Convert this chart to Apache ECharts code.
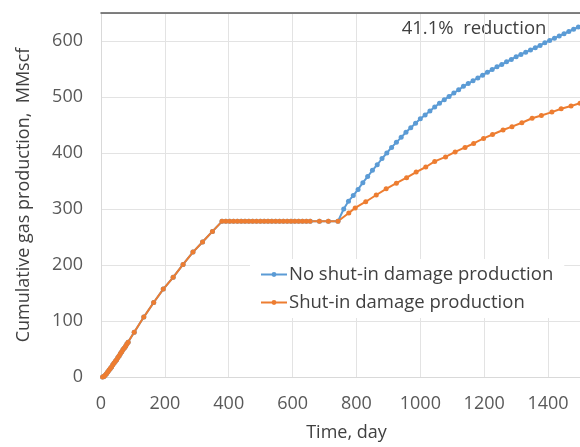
<!DOCTYPE html>
<html>
<head>
<meta charset="utf-8">
<script src="https://cdn.jsdelivr.net/npm/echarts@6/dist/echarts.min.js"></script>
<style>
  html, body { margin: 0; padding: 0; background: #fff; }
  #chart { width: 580px; height: 447px; }
</style>
</head>
<body>
<div id="chart"></div>
<script>
// shared history (both cases identical until the shut-in ends)
const historyDays = [5, 9, 13, 17, 21, 25, 29, 33, 37, 41, 45, 49, 53, 57, 61, 65, 69, 73, 77, 81, 85,
  104, 134, 165, 195, 226, 257, 288, 318, 349, 379,
  391, 403, 415, 427, 439, 451, 463, 475, 487, 499, 511, 523, 535, 547, 559, 571, 583, 595, 607, 619, 631, 643, 655,
  684, 712, 742]
const historyValues = [0, 1, 3, 6, 9, 12, 15, 18, 22, 25, 28, 31, 35, 38, 42, 45, 49, 52, 55, 59, 62,
  80, 107, 133, 157, 178, 201, 223, 241, 260, 278,
  278, 278, 278, 278, 278, 278, 278, 278, 278, 278, 278, 278, 278, 278, 278, 278, 278, 278, 278, 278, 278, 278, 278,
  278, 278, 278]

// after restart: no shut-in damage
const noDamageDays = [760, 775, 790, 805, 820, 835, 850, 865, 880, 895, 910, 925, 940, 955, 970, 985, 1000,
  1015, 1030, 1045, 1060, 1075, 1090, 1105, 1120, 1135, 1150, 1165, 1180, 1195, 1210, 1225, 1240, 1255,
  1270, 1285, 1300, 1315, 1330, 1345, 1360, 1375, 1390, 1405, 1420, 1435, 1450, 1465, 1480, 1495]
const noDamageValues = [300, 314, 324, 335, 347, 358, 369, 379, 390, 400, 410, 419, 428, 437, 445, 453, 461,
  468, 475, 482, 489, 495, 501, 507, 513, 519, 524, 529, 534, 539, 544, 549, 554, 558,
  563, 567, 572, 576, 580, 584, 588, 592, 597, 601, 605, 609, 613, 617, 621, 625]

// after restart: with shut-in damage
const damageDays = [776, 796, 829, 862, 893, 925, 957, 987, 1017, 1045, 1079, 1109, 1140, 1167, 1198,
  1226, 1259, 1287, 1318, 1350, 1379, 1412, 1441, 1472, 1500]
const damageValues = [293, 302, 313, 325, 336, 346, 356, 366, 375, 385, 393, 402, 410, 417, 426,
  433, 441, 447, 454, 462, 467, 473, 479, 484, 489]

const seriesNames = ['No shut-in damage production', 'Shut-in damage production']
const annotationText = '41.1%  reduction'

const font = 'Open Sans'

const pairs = (xs, ys) => xs.map((x, i) => [x, ys[i]])

const chart = echarts.init(document.getElementById('chart'), null, { renderer: 'canvas' })

const option = {
  animation: false,
  backgroundColor: '#fff',
  textStyle: { fontFamily: font },
  grid: { left: 101, top: 13, width: 491, height: 369 },
  legend: {
    data: seriesNames,
    orient: 'vertical',
    left: 250,
    top: 259,
    backgroundColor: '#fff',
    padding: [6, 11, 6, 10],
    itemGap: 9,
    itemWidth: 26,
    itemHeight: 6,
    textStyle: { fontFamily: font, fontSize: 18.5, color: '#404040', padding: [0, 0, 0, -3] }
  },
  xAxis: [{
    type: 'value',
    min: 0,
    max: 1500,
    interval: 200,
    name: 'Time, day',
    nameLocation: 'middle',
    nameGap: 47,
    nameTextStyle: { fontFamily: font, fontSize: 18, color: '#404040', padding: [0, 0, 0, 12] },
    axisLine: { lineStyle: { color: '#d9d9d9' } },
    axisTick: { show: false },
    axisLabel: {
      fontFamily: font, fontSize: 18, color: '#595959', margin: 18, showMaxLabel: false,
      formatter: v => String(v)
    },
    splitLine: { lineStyle: { color: '#e3e3e3' } }
  }, {
    type: 'value',
    position: 'top',
    min: 0,
    max: 1500,
    axisLine: { show: true, lineStyle: { color: '#595959', width: 1.5 } },
    axisTick: { show: false },
    axisLabel: { show: false },
    splitLine: { show: false }
  }],
  yAxis: {
    type: 'value',
    min: 0,
    max: 650,
    interval: 100,
    name: 'Cumulative gas production,  MMscf',
    nameLocation: 'middle',
    nameGap: 68,
    nameTextStyle: { fontFamily: font, fontSize: 18, color: '#404040' },
    axisLine: { show: true, lineStyle: { color: '#d9d9d9' } },
    axisTick: { show: false },
    axisLabel: { fontFamily: font, fontSize: 18, color: '#595959', margin: 18, showMaxLabel: false },
    splitLine: { lineStyle: { color: '#e3e3e3' } }
  },
  graphic: [{
    type: 'group',
    left: 392,
    top: 14,
    z: 10,
    children: [
      { type: 'rect', shape: { x: 0, y: 0, width: 166, height: 30 }, style: { fill: '#fff' } },
      {
        type: 'text',
        x: 82,
        y: 15,
        style: {
          text: annotationText,
          fontFamily: font,
          fontSize: 18.5,
          fill: '#404040',
          align: 'center',
          verticalAlign: 'middle'
        }
      }
    ]
  }],
  series: [{
    name: seriesNames[0],
    type: 'line',
    data: pairs(historyDays, historyValues).concat(pairs(noDamageDays, noDamageValues)),
    symbol: 'circle',
    symbolSize: 5,
    showAllSymbol: true,
    lineStyle: { width: 2, color: '#5B9BD5' },
    itemStyle: { color: '#5B9BD5' }
  }, {
    name: seriesNames[1],
    type: 'line',
    data: pairs(historyDays, historyValues).concat(pairs(damageDays, damageValues)),
    symbol: 'circle',
    symbolSize: 5,
    showAllSymbol: true,
    lineStyle: { width: 2, color: '#ED7D31' },
    itemStyle: { color: '#ED7D31' }
  }]
}

chart.setOption(option)
</script>
</body>
</html>
